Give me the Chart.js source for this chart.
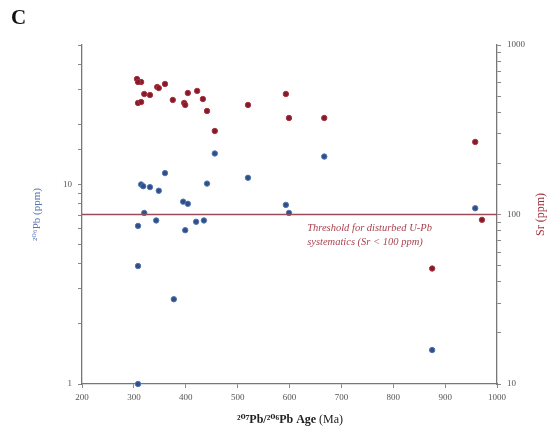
<!DOCTYPE html>
<html>
<head>
<meta charset="utf-8">
<script src="https://cdn.jsdelivr.net/npm/chart.js@4/dist/chart.umd.min.js"></script>
<style>
  html, body { margin: 0; padding: 0; background: #fff; }
  #wrap { width: 549px; height: 437px; }
</style>
</head>
<body>
<div id="wrap"><canvas id="chart"></canvas></div>
<script>
// Sr (ppm) vs 207Pb/206Pb age
const srAge = [306, 314, 308, 320, 331, 308, 314, 345, 348, 360, 375, 397, 399, 404, 422, 433, 441, 456, 520, 593, 599, 667, 958, 971, 875];
const srPpm = [630, 605, 605, 514, 507, 455, 461, 565, 557, 589, 474, 455, 443, 521, 536, 480, 408, 311, 443, 514, 371, 371, 268, 93, 48];

// 206Pb (ppm) vs 207Pb/206Pb age
const pbAge = [314, 318, 331, 348, 360, 395, 404, 441, 320, 308, 343, 399, 420, 435, 456, 520, 593, 599, 667, 958, 875, 308, 377, 308];
const pbPpm = [10.0, 9.8, 9.7, 9.3, 11.4, 8.2, 8.0, 10.1, 7.2, 6.2, 6.6, 5.9, 6.5, 6.6, 14.3, 10.8, 7.9, 7.2, 13.8, 7.6, 1.48, 3.9, 2.66, 1.0];

// threshold Sr value and axis tick labels
const srThreshold = [100, 100];
const thresholdAge = [200, 1000];
const pbTickLabels = [1, 10];
const srTickLabels = [10, 100, 1000];

const serif = '"Liberation Serif", "DejaVu Serif", serif';
const redDot = '#86192a';
const blueDot = '#2f4f86';

const toPoints = (xs, ys) => xs.map((x, i) => ({ x: x, y: ys[i] }));

const extras = {
  id: 'extras',
  afterDraw(chart) {
    const c = chart.ctx;
    const area = chart.chartArea;
    const xs = chart.scales.x;
    const ySr = chart.scales.ySr;
    c.save();
    // panel letter
    c.fillStyle = '#111';
    c.font = 'bold 21px ' + serif;
    c.textAlign = 'left';
    c.textBaseline = 'middle';
    c.fillText('C', 11, 19);

    // left axis title
    c.save();
    c.translate(37, (area.top + area.bottom) / 2);
    c.rotate(-Math.PI / 2);
    c.textAlign = 'center';
    c.fillStyle = '#5b78b4';
    c.font = '11px ' + serif;
    c.fillText('²⁰⁶Pb (ppm)', 0, 0);
    c.restore();

    // right axis title
    c.save();
    c.translate(541, (area.top + area.bottom) / 2);
    c.rotate(-Math.PI / 2);
    c.textAlign = 'center';
    c.fillStyle = '#a3313d';
    c.font = '12px ' + serif;
    c.fillText('Sr (ppm)', 0, 0);
    c.restore();

    // x axis title, bold part + normal part
    const boldTxt = '²⁰⁷Pb/²⁰⁶Pb Age ';
    const normTxt = '(Ma)';
    c.font = 'bold 12px ' + serif;
    const w1 = c.measureText(boldTxt).width;
    c.font = '12px ' + serif;
    const w2 = c.measureText(normTxt).width;
    let tx = 290 - (w1 + w2) / 2;
    c.textAlign = 'left';
    c.fillStyle = '#222';
    c.font = 'bold 12px ' + serif;
    c.fillText(boldTxt, tx, 420);
    c.font = '12px ' + serif;
    c.fillText(normTxt, tx + w1, 420);

    // threshold note
    const ly = ySr.getPixelForValue(srThreshold[0]);
    c.fillStyle = '#a84350';
    c.font = 'italic 10.5px ' + serif;
    c.fillText('Threshold for disturbed U-Pb', xs.getPixelForValue(634), ly + 14);
    c.fillText('systematics (Sr < 100 ppm)', xs.getPixelForValue(634), ly + 28);
    c.restore();
  }
};

const tickFont = { family: serif, size: 9 };

new Chart(document.getElementById('chart'), {
  type: 'scatter',
  data: {
    datasets: [
      {
        label: 'threshold',
        type: 'line',
        data: toPoints(thresholdAge, srThreshold),
        yAxisID: 'ySr',
        borderColor: '#9a4d58',
        borderWidth: 1.3,
        pointRadius: 0,
        fill: false
      },
      {
        label: 'Sr',
        data: toPoints(srAge, srPpm),
        yAxisID: 'ySr',
        backgroundColor: redDot,
        borderColor: '#a8333f',
        borderWidth: 1,
        pointRadius: 2.7,
        clip: false
      },
      {
        label: '206Pb',
        data: toPoints(pbAge, pbPpm),
        yAxisID: 'yPb',
        backgroundColor: blueDot,
        borderColor: '#4f75b3',
        borderWidth: 1,
        pointRadius: 2.7,
        clip: false
      }
    ]
  },
  options: {
    responsive: true,
    maintainAspectRatio: false,
    animation: false,
    layout: { padding: { top: 45, left: 0, right: 0, bottom: 0 } },
    plugins: {
      legend: { display: false },
      tooltip: { enabled: false }
    },
    scales: {
      x: {
        type: 'linear',
        min: 200,
        max: 1000,
        afterFit: s => { s.height = 53; },
        ticks: { stepSize: 100, color: '#555', font: tickFont, padding: 4, callback: v => String(v) },
        grid: { drawOnChartArea: false, tickLength: 4, color: '#888' },
        border: { color: '#777', width: 1.3 }
      },
      yPb: {
        type: 'logarithmic',
        position: 'left',
        min: 1,
        max: 50,
        afterFit: s => { s.width = 82; },
        ticks: {
          autoSkip: false,
          color: '#555',
          font: tickFont,
          padding: 6,
          callback: v => pbTickLabels.includes(v) ? String(v) : ''
        },
        grid: { drawOnChartArea: false, tickLength: 4, color: '#888' },
        border: { color: '#777', width: 1.3 }
      },
      ySr: {
        type: 'logarithmic',
        position: 'right',
        min: 10,
        max: 1000,
        afterFit: s => { s.width = 52; },
        ticks: {
          autoSkip: false,
          color: '#555',
          font: tickFont,
          padding: 6,
          callback: v => srTickLabels.includes(v) ? String(v) : ''
        },
        grid: { drawOnChartArea: false, tickLength: 4, color: '#888' },
        border: { color: '#777', width: 1.3 }
      }
    }
  },
  plugins: [extras]
});
</script>
</body>
</html>
